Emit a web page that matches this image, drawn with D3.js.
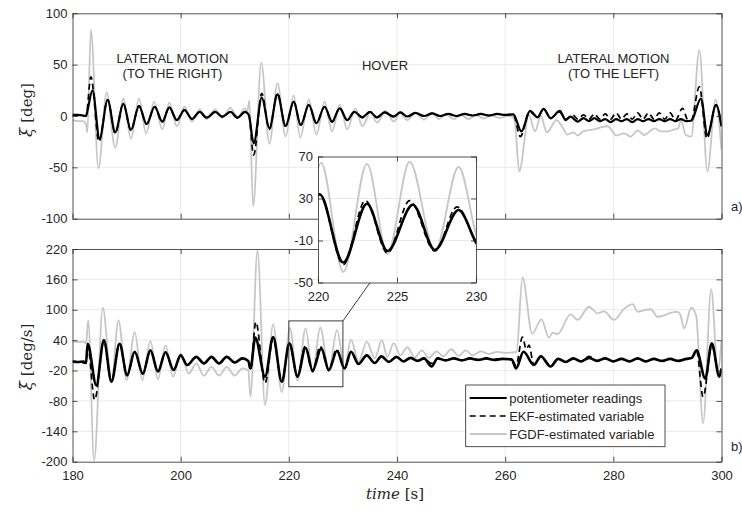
<!DOCTYPE html>
<html lang="en">
<head>
<meta charset="utf-8">
<title>Lateral motion and hover</title>
<script src="https://cdn.jsdelivr.net/npm/d3@7"></script>
<style>
body { margin: 0; background: #fff; }
svg { display: block; }
.tick text { font-family: "Liberation Sans", Arial, sans-serif; font-size: 13px; fill: #262626; }
.domain, .tick line { stroke: #262626; stroke-width: 0.8; }
.lbl { font-family: "Liberation Sans", Arial, sans-serif; font-size: 13px; fill: #262626; }
.ax { font-family: "DejaVu Serif", serif; font-size: 15px; fill: #262626; }
</style>
</head>
<body>
<script>
var w = 742, h = 511;

// tick values
var timeTicks = [180, 200, 220, 240, 260, 280, 300];
var angTicks = [-100, -50, 0, 50, 100];
var rateTicks = [-200, -140, -80, -20, 40, 100, 160, 220];
var insetTimeTicks = [220, 225, 230];
var insetRateTicks = [-50, -10, 30, 70];

var seriesNames = ["potentiometer readings", "EKF-estimated variable", "FGDF-estimated variable"];

// panel a) angle xi [deg], pairs [time, value] read at extremes
var angPot = [[180,1],[181,1],[182,0.5],[182.5,0],[182.8,6],[183.7,25],[185,-22],[186.5,15.6],[187.9,-16],[189.4,12],[190.8,-13.6],[192.3,9.7],[193.7,-7.8],[195.2,9],[196.6,-5.5],[197.9,8.4],[199.3,-4],[200.7,5.8],[202.1,-3],[203.5,4],[204.8,-1.6],[206.4,4],[207.7,-0.6],[209.2,4],[210.5,-1.6],[211.9,4],[212.6,1],[213.5,-26.6],[215,18],[216.4,-12],[217.9,21],[219.4,-9.7],[220.9,14],[222.2,-8.8],[223.7,10.7],[225.1,-7],[226.6,9],[228,-5.5],[229.4,7.5],[230.8,-4],[232.1,4],[233.6,-1.3],[235,4],[236.3,-1.3],[237.7,3.5],[239.4,-0.6],[240.6,3.5],[241.9,-0.5],[243.4,3],[245,0],[246.5,2.5],[248,0],[249.5,2],[251,0],[252.5,2],[254,0.5],[255.5,2],[257,0.5],[258.5,2],[260,1],[261.5,1.5],[263,-15],[264.6,5],[266,-1.3],[267.1,7],[268.4,-2.3],[270.1,5],[271.2,-4],[272.1,-0.6],[273.4,-5.5],[274.5,-2],[275.5,-5],[276.5,-2],[277.5,-5],[278.5,-3],[279.5,-6],[280.5,-3],[281.5,-5],[282.5,-3],[283.5,-6],[284.5,-3],[285.5,-5],[286.5,-3],[287.5,-5],[288.5,-3],[289.5,-5],[290.5,-3],[291.5,-5],[292.5,-3],[293.5,-5],[294.4,-4.6],[296.2,17],[297.4,-18.5],[299,10.7],[300,-10]];
var angEkf = [[180,1],[182.5,0],[183.4,38],[184.9,-25],[186.5,16],[187.9,-17],[189.4,12],[190.8,-14],[192.3,10],[193.7,-8],[195.2,9],[196.6,-6],[197.9,8],[199.3,-4],[200.7,6],[202.1,-3],[203.5,4],[204.8,-2],[206.4,4],[207.7,-1],[209.2,4],[210.5,-2],[211.9,4],[212.6,1],[213.5,-38],[215,22],[216.4,-13],[217.9,22],[219.4,-10],[220.9,14],[222.2,-9],[223.7,11],[225.1,-7],[226.6,9],[228,-6],[229.4,8],[230.8,-4],[232.1,4],[233.6,-1.5],[235,4],[236.3,-1.5],[237.7,3.5],[239.4,-0.5],[240.6,3.5],[241.9,-0.5],[243.4,3],[245,0],[246.5,2.5],[248,0],[249.5,2],[251,0],[252.5,2],[254,0.5],[255.5,2],[257,0.5],[258.5,2],[260,1],[261.5,1.5],[262.8,-20],[264.5,4],[266,-1],[267.1,7],[268.4,-2],[270,4],[271.2,-3],[272.5,1],[273.4,-3],[274.5,1],[275.5,-3],[276.5,2],[277.5,-3],[278.5,2],[279.5,-3],[280.5,3],[281.5,-3],[282.5,2],[283.5,-3],[284.5,3],[285.5,-3],[286.5,3],[287.5,-3],[288.5,3],[289.5,-3],[290.5,3],[291.5,-4],[292.8,7.5],[293.8,-4],[294.4,-4],[295.9,28.5],[297.3,-22],[299,11],[300,-10]];
var angFgdf = [[180,-4],[181,-5],[182,-5],[182.5,-8],[182.75,-16],[183.4,84],[184.8,-51],[186.3,23],[187.9,-31],[189.4,17],[190.8,-22],[192.3,17],[193.6,-17],[195.1,14],[196.6,-13],[197.9,13],[199.3,-10],[200.7,9],[202.1,-5.5],[203.5,6.5],[204.8,-3],[206.4,6.5],[207.7,-2],[209.2,8],[210.5,-1.5],[211.9,7.5],[212.3,4],[212.7,15],[213.4,-88],[214.9,52],[216.4,-27],[217.9,32],[219.4,-20],[220.9,20],[222.1,-21],[223.7,16],[225.1,-18],[226.6,14],[228,-15],[229.4,11],[230.8,-13],[232.3,7.5],[233.6,-10],[235.1,4],[236.3,-6.5],[237.9,5],[239.4,-5.5],[240.6,3.5],[241.9,-4],[243.4,3],[245,-3.5],[246.5,2.5],[247.8,-3],[249,2],[250.5,-3],[251.8,1.5],[253.2,-3],[254.6,1],[256,-2.5],[257.5,0.5],[259,-2],[260.5,0],[261.4,-1],[261.8,-6],[262.6,-54],[264.4,1],[265.5,-15],[266.6,0],[267.7,-16],[269.5,-4],[270.5,-10],[271.5,-18],[272.6,-16],[273.4,-19],[274.4,-15],[275.2,-14],[276.4,-13],[277.7,-11],[278.9,-10],[280,-16],[280.5,-19],[282,-17],[283.2,-20],[284.5,-14],[285.7,-18.5],[286.5,-16],[287.6,-12],[288.8,-15],[290,-15],[291.3,-13],[292,-12],[292.5,-4],[293.4,-18.5],[294.4,-20],[295.9,64],[297.4,-54],[298.9,16],[300,-33]];

// panel b) angular rate [deg/s]
var ratePot = [[180,-2],[181,-3],[182,-2],[182.5,-5],[182.8,33],[184.4,-49],[185.8,40],[187.2,-42],[188.7,33],[190.1,-29],[191.5,17],[193,-26],[194.4,20],[195.8,-22],[197.2,16],[198.7,-19],[200,10],[201.2,-9],[202.9,7],[204.3,-6],[205.7,7],[207.1,-6],[208.5,7],[210,-4],[211.4,4],[212.5,-1],[212.9,-16],[213.8,45],[215.6,-32],[217.1,46],[218.7,-42],[220.1,34],[221.6,-31],[223.1,25],[224.4,-20],[226,24],[227.4,-19],[228.9,19],[230.3,-16],[231.5,17],[232.9,-7],[234.4,10],[235.9,-5],[237.1,8],[238.5,-3],[239.9,7],[241.2,-2],[242.5,5],[243.8,-1],[245,4],[246.4,-12],[247.5,4],[249,0],[250.5,4],[252,0],[253.5,4],[255,1],[256.5,4],[258,1],[259.5,3],[261.2,2],[262,-16],[263.4,17],[265.3,-9],[266.6,8],[268.4,-12],[269.8,3],[271.2,-3],[272.6,4],[274,-2],[275.5,5],[277,-1],[278.5,4],[280,-2],[281.5,3],[283,-2],[284.5,4],[286,-2],[287.5,3],[289,-1],[290.5,3],[292,-1],[293.5,3],[294.5,5],[295.4,20],[297,-36],[298.2,34],[299.6,-32],[300,-16]];
var rateEkf = [[180,-2],[182.5,-5],[182.8,30],[184.1,-78],[185.8,38],[187.2,-42],[188.7,34],[190.1,-30],[191.5,18],[193,-27],[194.4,20],[195.8,-22],[197.2,16],[198.7,-19],[200,10],[201.2,-9],[202.9,7],[204.3,-6],[205.7,7],[207.1,-6],[208.5,7],[210,-4],[211.4,4],[212.5,-1],[212.9,-20],[213.9,76],[215.6,-45],[217.1,43],[218.7,-42],[220.1,34],[221.6,-33],[223,28],[224.4,-22],[225.8,28],[227.4,-20],[228.8,22],[230.3,-16],[231.5,17],[232.9,-7],[234.4,10],[235.9,-5],[237.1,8],[238.5,-3],[239.9,7],[241.2,-2],[242.5,5],[243.8,-1],[245,4],[246.4,-6],[247.5,4],[249,0],[250.5,4],[252,0],[253.5,4],[255,1],[256.5,4],[258,1],[259.5,3],[261.2,2],[262,-10],[263.2,46],[263.9,22],[264.4,30],[265.3,-9],[266.6,8],[268.4,-10],[269.8,3],[271.2,-3],[272.6,4],[274,-2],[275.5,8],[277,-1],[278.5,4],[280,-2],[281.5,3],[283,-2],[284.5,4],[286,-2],[287.5,3],[289,-1],[290.5,3],[292,-1],[293.5,3],[294.5,5],[295.4,18],[296.6,-72],[298.2,30],[299.6,-30],[300,-16]];
var rateFgdf = [[180,38],[181,36],[182,37],[182.5,33.5],[182.9,79],[184,-198],[185.6,104],[187.2,-42],[188.5,79],[190,-39],[191.5,56],[192.9,-39],[194.4,38],[195.8,-37],[197.2,29],[198.6,-32],[200,14],[201.5,-26],[202.9,-6],[204.3,-30],[205.7,-12.6],[207.1,-30],[208.5,-12.6],[210,-30],[211.4,-16],[212.5,-19],[212.9,-72],[214.2,217],[215.6,-88],[217.1,71],[218.7,-63],[220.2,64],[221.6,-40],[223.1,63],[224.4,-23],[225.8,65],[227.4,-20],[228.9,60],[230.3,-13],[231.5,41],[232.9,-3],[234.4,37],[235.9,4],[237.2,40],[238.2,7],[239.4,34],[240.6,10],[241.9,26],[243.3,6],[244.6,20],[245.9,5],[247.3,18],[248.6,8],[250,22],[251.4,9],[252.7,20],[254,10],[255.5,18],[257,13],[258.5,17],[260,15],[261.5,16],[262.1,17],[263.2,164],[265,53],[266.7,81],[268.1,45],[268.8,55],[269.7,52],[272.1,91],[273.4,80],[275.5,106],[277.1,93],[278.3,97],[280.1,80],[282,102],[283.6,111],[284.5,96],[285.7,99],[286.9,101],[288.2,86],[289.4,89],[290.6,94],[291.9,96],[292.4,90],[293.1,63],[294.4,104],[295.3,89],[296.6,-124],[298.1,140],[299.3,-20],[300,40]];

// zoomed region shown in the inset
var zoomTime = [220, 230];
var zoomRate = [-52, 78];

var axisCol = "#262626", gridCol = "#e3e3e3", fgdfCol = "#c6c6c6";

var svg = d3.select("body").append("svg").attr("width", w).attr("height", h);

var x = d3.scaleLinear().domain([180, 300]).range([72.5, 721.5]);
var yA = d3.scaleLinear().domain([-100, 100]).range([218.7, 13.3]);
var yB = d3.scaleLinear().domain([-200, 220]).range([461.7, 249]);
var xi = d3.scaleLinear().domain([220, 230]).range([318, 476]);
var yi = d3.scaleLinear().domain([-50, 70]).range([282.5, 156.5]);

function fmt(d) { return String(d); }

function grid(g, xs, ys, xt, yt) {
  var r = xs.range(), b = ys.range();
  g.append("g").selectAll("line").data(xt).enter().append("line")
    .attr("x1", function(d) { return xs(d); }).attr("x2", function(d) { return xs(d); })
    .attr("y1", b[1]).attr("y2", b[0]).attr("stroke", gridCol).attr("stroke-width", 0.8);
  g.append("g").selectAll("line").data(yt).enter().append("line")
    .attr("y1", function(d) { return ys(d); }).attr("y2", function(d) { return ys(d); })
    .attr("x1", r[0]).attr("x2", r[1]).attr("stroke", gridCol).attr("stroke-width", 0.8);
}

function axes(g, xs, ys, xt, yt, xLabels) {
  var r = xs.range(), b = ys.range();
  g.append("g").attr("transform", "translate(0," + b[0] + ")")
    .call(d3.axisBottom(xs).tickValues(xt).tickSizeInner(-5).tickSizeOuter(0).tickPadding(9)
      .tickFormat(xLabels ? fmt : ""));
  g.append("g").attr("transform", "translate(0," + b[1] + ")")
    .call(d3.axisTop(xs).tickValues(xt).tickSizeInner(-5).tickSizeOuter(0).tickFormat(""));
  g.append("g").attr("transform", "translate(" + r[0] + ",0)")
    .call(d3.axisLeft(ys).tickValues(yt).tickSizeInner(-5).tickSizeOuter(0).tickPadding(5).tickFormat(fmt));
  g.append("g").attr("transform", "translate(" + r[1] + ",0)")
    .call(d3.axisRight(ys).tickValues(yt).tickSizeInner(-5).tickSizeOuter(0).tickFormat(""));
}

function clip(id, xs, ys) {
  var r = xs.range(), b = ys.range();
  svg.append("clipPath").attr("id", id).append("rect")
    .attr("x", r[0]).attr("y", b[1]).attr("width", r[1] - r[0]).attr("height", b[0] - b[1]);
}

function lines(g, xs, ys, pot, ekf, fgdf, potWidth) {
  var line = d3.line().x(function(d) { return xs(d[0]); }).y(function(d) { return ys(d[1]); })
    .curve(d3.curveMonotoneX);
  g.append("path").datum(fgdf).attr("d", line).attr("fill", "none")
    .attr("stroke", fgdfCol).attr("stroke-width", 1.8);
  g.append("path").datum(pot).attr("d", line).attr("fill", "none")
    .attr("stroke", "#000").attr("stroke-width", potWidth).attr("stroke-linejoin", "round");
  g.append("path").datum(ekf).attr("d", line).attr("fill", "none")
    .attr("stroke", "#000").attr("stroke-width", 1.7).attr("stroke-dasharray", "6,4");
}

clip("clip-a", x, yA);
clip("clip-b", x, yB);
clip("clip-i", xi, yi);

// panel a
var gA = svg.append("g");
grid(gA, x, yA, timeTicks.slice(1, -1), angTicks.slice(1, -1));
lines(gA.append("g").attr("clip-path", "url(#clip-a)"), x, yA, angPot, angEkf, angFgdf, 2.2);
axes(gA, x, yA, timeTicks, angTicks, false);

// panel b
var gB = svg.append("g");
grid(gB, x, yB, timeTicks.slice(1, -1), rateTicks.slice(1, -1));
lines(gB.append("g").attr("clip-path", "url(#clip-b)"), x, yB, ratePot, rateEkf, rateFgdf, 2.6);
axes(gB, x, yB, timeTicks, rateTicks, true);

// zoom box and connector
gB.append("rect")
  .attr("x", x(zoomTime[0])).attr("y", yB(zoomRate[1]))
  .attr("width", x(zoomTime[1]) - x(zoomTime[0])).attr("height", yB(zoomRate[0]) - yB(zoomRate[1]))
  .attr("fill", "none").attr("stroke", axisCol).attr("stroke-width", 0.9);
svg.append("line")
  .attr("x1", x(zoomTime[1])).attr("y1", yB(zoomRate[1]))
  .attr("x2", xi(223.3)).attr("y2", yi(-50))
  .attr("stroke", axisCol).attr("stroke-width", 0.9);

// inset
var gI = svg.append("g");
gI.append("rect").attr("x", xi.range()[0]).attr("y", yi.range()[1])
  .attr("width", xi.range()[1] - xi.range()[0]).attr("height", yi.range()[0] - yi.range()[1])
  .attr("fill", "#fff");
grid(gI, xi, yi, insetTimeTicks.slice(1, -1), insetRateTicks.slice(1, -1));
lines(gI.append("g").attr("clip-path", "url(#clip-i)"), xi, yi, ratePot, rateEkf, rateFgdf, 2.6);
axes(gI, xi, yi, insetTimeTicks, insetRateTicks, true);

// annotations
function note(txt, cx, y) {
  svg.append("text").attr("class", "lbl").attr("x", cx).attr("y", y)
    .attr("text-anchor", "middle").text(txt);
}
note("LATERAL MOTION", 172.5, 63);
note("(TO THE RIGHT)", 172.5, 78);
note("HOVER", 385, 70);
note("LATERAL MOTION", 613.5, 63);
note("(TO THE LEFT)", 613.5, 78);
svg.append("text").attr("class", "lbl").attr("x", 731).attr("y", 211).text("a)");
svg.append("text").attr("class", "lbl").attr("x", 731).attr("y", 451).text("b)");

// axis titles
var t1 = svg.append("text").attr("class", "ax").attr("text-anchor", "middle")
  .attr("transform", "translate(32,110) rotate(-90)");
t1.append("tspan").attr("font-style", "italic").attr("font-size", "17px").text("ξ");
t1.append("tspan").text(" [deg]");
var t2 = svg.append("text").attr("class", "ax").attr("text-anchor", "middle")
  .attr("transform", "translate(32,357) rotate(-90)");
t2.append("tspan").attr("font-style", "italic").attr("font-size", "17px").text("ξ\u0307");
t2.append("tspan").text(" [deg/s]");
var t3 = svg.append("text").attr("class", "ax").attr("text-anchor", "middle")
  .attr("x", 395).attr("y", 499);
t3.append("tspan").attr("font-style", "italic").text("time");
t3.append("tspan").text(" [s]");

// legend
var lg = svg.append("g").attr("transform", "translate(465.7,385)");
lg.append("rect").attr("width", 199.3).attr("height", 61.7)
  .attr("fill", "#fff").attr("stroke", axisCol).attr("stroke-width", 0.8);
var styles = [
  { c: "#000", dash: null, sw: 2 },
  { c: "#000", dash: "6,4", sw: 1.7 },
  { c: fgdfCol, dash: null, sw: 1.8 }
];
var rows = lg.selectAll("g.row").data(seriesNames).enter().append("g")
  .attr("transform", function(d, i) { return "translate(0," + (13 + i * 18) + ")"; });
rows.append("line").attr("x1", 4).attr("x2", 41)
  .attr("stroke", function(d, i) { return styles[i].c; })
  .attr("stroke-width", function(d, i) { return styles[i].sw; })
  .attr("stroke-dasharray", function(d, i) { return styles[i].dash; });
rows.append("text").attr("class", "lbl").attr("x", 43.5).attr("dy", "0.35em").text(function(d) { return d; });
</script>
</body>
</html>
